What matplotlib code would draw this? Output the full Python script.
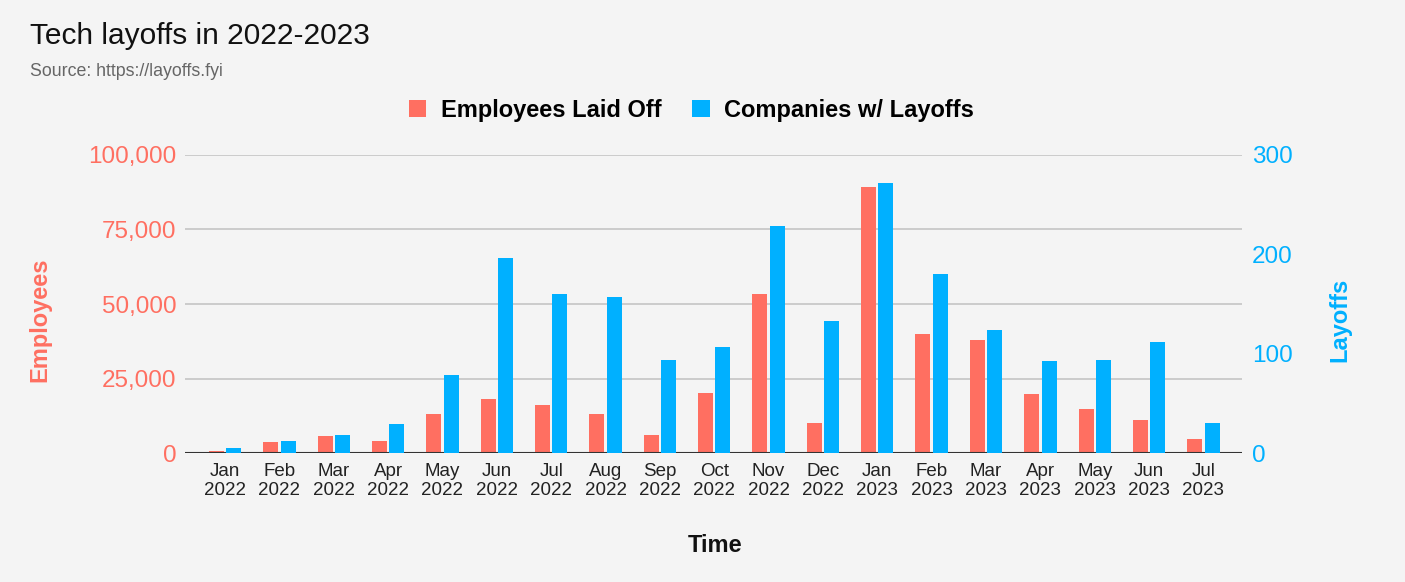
import numpy as np
import matplotlib.pyplot as plt

# ---------------------------------------------
# Data
# ---------------------------------------------
months = ["Jan", "Feb", "Mar", "Apr", "May", "Jun", "Jul", "Aug", "Sep", "Oct",
          "Nov", "Dec", "Jan", "Feb", "Mar", "Apr", "May", "Jun", "Jul"]
years = ["2022"] * 12 + ["2023"] * 7
employees = [700, 3600, 5800, 4100, 13200, 18200, 16100, 13200, 6000, 20100,
             53400, 10100, 89200, 40000, 37800, 19700, 14700, 11200, 4600]
companies = [5, 12, 18, 29, 79, 196, 160, 157, 94, 107,
             229, 133, 272, 180, 124, 93, 94, 112, 30]

red = "#ff6f61"
blue = "#00b0ff"
bg = "#f4f4f4"

plt.rcParams["font.family"] = ["Liberation Sans", "DejaVu Sans"]

# ---------------------------------------------
# Plot
# ---------------------------------------------
fig = plt.figure(figsize=(14.05, 5.82), dpi=100, facecolor=bg)
ax = fig.add_axes([0.1317, 0.2216, 0.7523, 0.5121])
ax.set_facecolor(bg)
ax2 = ax.twinx()

x = np.arange(len(months))
w = 0.276
off = 0.16
ax.bar(x - off, employees, width=w, color=red, zorder=3, label="Employees Laid Off")
ax2.bar(x + off, companies, width=w, color=blue, zorder=3, label="Companies w/ Layoffs")

ax.set_xlim(-0.736, 18.71)
ax.set_ylim(0, 100000)
ax2.set_ylim(0, 300)
ax.set_yticks([0, 25000, 50000, 75000, 100000])
ax.set_yticklabels(["0", "25,000", "50,000", "75,000", "100,000"])
ax2.set_yticks([0, 100, 200, 300])

ax.grid(axis="y", color="#c4c4c4", linewidth=1.2, zorder=0)
ax.set_axisbelow(True)
for a in (ax, ax2):
    for s in a.spines.values():
        s.set_visible(False)
ax.axhline(0, color="#333333", linewidth=1.5, zorder=4)

ax.set_xticks(x)
ax.set_xticklabels([m + "\n" + y for m, y in zip(months, years)], fontsize=13.5,
                   color="#222222", linespacing=1.15)
ax.tick_params(axis="x", length=0, pad=7)
ax.tick_params(axis="y", length=0, pad=6, labelsize=17.5, labelcolor=red)
ax2.tick_params(axis="y", length=0, pad=7, labelsize=17.5, labelcolor=blue)

fig.text(0.0285, 0.45, "Employees", rotation=90, ha="center", va="center",
         fontsize=17, fontweight="bold", color=red)
fig.text(0.9537, 0.45, "Layoffs", rotation=90, ha="center", va="center",
         fontsize=17, fontweight="bold", color=blue)
fig.text(0.509, 0.063, "Time", ha="center", va="center", fontsize=17,
         fontweight="bold", color="#111111")

fig.text(0.0213, 0.938, "Tech layoffs in 2022-2023", ha="left", va="center",
         fontsize=21.5, color="#111111")
fig.text(0.0213, 0.878, "Source: https://layoffs.fyi", ha="left", va="center",
         fontsize=12.8, color="#666666")

h1, l1 = ax.get_legend_handles_labels()
h2, l2 = ax2.get_legend_handles_labels()
fig.legend(h1 + h2, l1 + l2, loc="center", bbox_to_anchor=(0.492, 0.81), ncol=2,
           frameon=False, prop={"size": 17, "weight": "bold"},
           handlelength=0.75, handleheight=0.75, handletextpad=0.6, columnspacing=1.3)

fig.savefig("out.png", dpi=100, facecolor=bg)
